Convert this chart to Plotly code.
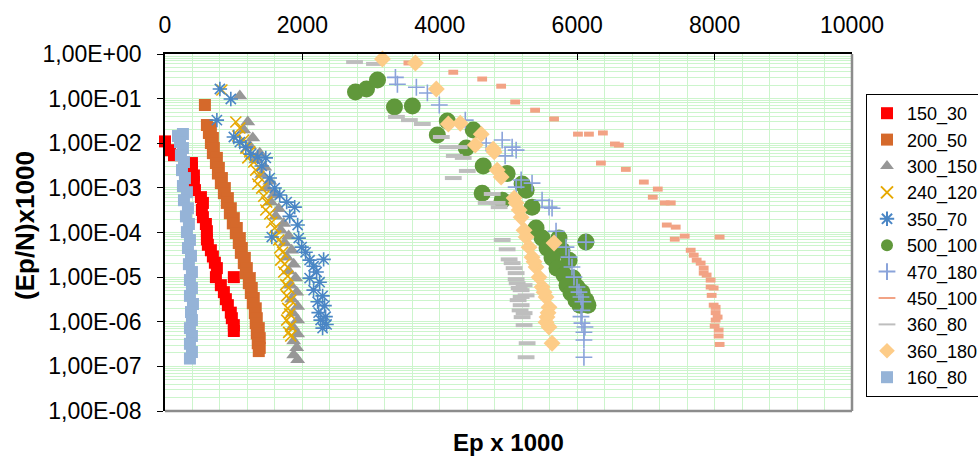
import plotly.graph_objects as go

# ---------------- data ----------------
s150_30_x = [0, 73, 131, 392, 392, 421, 421, 436, 523, 552, 537, 552, 595, 610, 610, 624, 668, 697, 726, 755,
             1002, 741, 813, 857, 886, 915, 958, 973, 1002, 1002]
s150_30_y = [0.011, 0.0070, 0.0054, 0.0036, 0.0028, 0.0019, 0.00135, 0.00089, 0.00062, 0.00046, 0.00032, 0.00022,
             0.000155, 0.000107, 0.00007, 0.000053, 0.00004, 0.000029, 0.000021, 0.0000159, 0.00001, 0.00001,
             6.6e-6, 4.6e-6, 3.2e-6, 2.35e-6, 1.6e-6, 1.2e-6, 8.4e-7, 6.2e-7]

s200_50_x = [581, 610, 668, 639, 697, 668, 711, 697, 755, 741, 784, 770, 828, 813, 871, 857, 915, 900, 958, 944,
             1002, 987, 1045, 1031, 1089, 1074, 1118, 1104, 1162, 1147, 1191, 1176, 1234, 1220, 1263, 1249, 1292,
             1278, 1321, 1307, 1336, 1321, 1365, 1336, 1379, 1350, 1379, 1365]
s200_50_y = [0.072, 0.0256, 0.022, 0.017, 0.0131, 0.0101, 0.0078, 0.006, 0.0047, 0.0036, 0.0028, 0.0021, 0.00166,
             0.00128, 0.00099, 0.00076, 0.00059, 0.00046, 0.00035, 0.00027, 0.00021, 0.00016, 0.000126, 0.000097,
             0.000075, 0.000058, 0.000045, 0.000035, 0.000027, 0.0000206, 0.0000159, 0.0000123, 9.5e-6, 7.3e-6,
             5.7e-6, 4.4e-6, 3.4e-6, 2.6e-6, 2.0e-6, 1.56e-6, 1.2e-6, 9.3e-7, 7.2e-7, 5.5e-7, 4.3e-7, 3.3e-7,
             2.6e-7, 2.2e-7]

s300_150_x = [1089, 1205, 1147, 1278, 1234, 1379, 1321, 1452, 1408, 1525, 1481, 1583, 1539, 1655, 1612, 1728, 1684,
              1800, 1742, 1844, 1771, 1873, 1800, 1902, 1830, 1917, 1844, 1931, 1859, 1931, 1859, 1931, 1873, 1917,
              1873, 1931]
s300_150_y = [0.114, 0.030, 0.0198, 0.0131, 0.0087, 0.0060, 0.0042, 0.0029, 0.0020, 0.0014, 0.00099, 0.00069,
              0.00048, 0.00034, 0.00023, 0.00016, 0.000113, 0.000083, 0.000058, 0.000040, 0.000028, 0.0000195,
              0.0000137, 9.5e-6, 6.6e-6, 4.6e-6, 3.2e-6, 2.2e-6, 1.56e-6, 1.09e-6, 7.6e-7, 5.3e-7, 3.7e-7, 2.6e-7,
              1.8e-7, 1.4e-7]

s240_120_x = [828, 1031, 1089, 1060, 1147, 1176, 1234, 1205, 1292, 1321, 1365, 1350, 1408, 1437, 1481, 1467, 1525,
              1554, 1597, 1612, 1655, 1670, 1713, 1684, 1742, 1728, 1786, 1757, 1800, 1771, 1830, 1786, 1815, 1771,
              1830, 1800, 1830]
s240_120_y = [0.156, 0.030, 0.022, 0.0145, 0.0118, 0.0078, 0.0064, 0.0047, 0.0038, 0.0025, 0.0018, 0.00122,
              0.00099, 0.00065, 0.00048, 0.00032, 0.00026, 0.00017, 0.000126, 0.000083, 0.000068, 0.000045,
              0.000036, 0.000024, 0.0000195, 0.000013, 0.0000105, 6.8e-6, 5.7e-6, 3.8e-6, 3.05e-6, 2.0e-6, 1.5e-6,
              1.09e-6, 8.0e-7, 5.8e-7, 4.8e-7]

s350_70_x = [799, 958, 755, 1002, 1089, 1176, 1249, 1350, 1467, 1408, 1525, 1597, 1670, 1771, 1888, 1815, 1931,
             1554, 1946, 1989, 2047, 2105, 2309, 2163, 2207, 2105, 2251, 2163, 2294, 2222, 2323, 2236, 2338, 2265,
             2352, 2294]
s350_70_y = [0.164, 0.098, 0.033, 0.0138, 0.0106, 0.0082, 0.0057, 0.0049, 0.0047, 0.0031, 0.00166, 0.00099,
             0.00069, 0.00048, 0.00037, 0.00023, 0.000147, 0.000079, 0.000075, 0.000047, 0.000036, 0.000024,
             0.000025, 0.0000175, 0.000013, 9.5e-6, 7.7e-6, 5.1e-6, 3.8e-6, 2.8e-6, 2.3e-6, 1.6e-6, 1.3e-6,
             1.09e-6, 8.7e-7, 7.2e-7]

s500_100_x = [2773, 2933, 3093, 3340, 3601, 4109, 3964, 4487, 4385, 4632, 4980, 5198, 4617, 4908, 5256, 5343, 5401,
              5489, 5735, 6127, 5561, 5779, 5634, 5881, 5706, 5808, 5939, 5852, 5997, 5910, 6069, 5982, 6127, 6040,
              6156]
s500_100_y = [0.14, 0.164, 0.26, 0.065, 0.068, 0.0315, 0.0153, 0.0198, 0.0078, 0.0031, 0.0021, 0.00122, 0.00076,
              0.00053, 0.00089, 0.00037, 0.000126, 0.000075, 0.000075, 0.000061, 0.000045, 0.000040, 0.000027,
              0.000024, 0.0000159, 0.0000111, 9.5e-6, 6.6e-6, 6.0e-6, 4.4e-6, 4.6e-6, 3.05e-6, 3.05e-6, 2.35e-6,
              2.35e-6]

s470_180_x = [3354, 3383, 3659, 3819, 3993, 4371, 4675, 4908, 5053, 5111, 4951, 5184, 5343, 5111, 5489, 5590, 5634,
              5692, 5837, 5881, 5924, 5953, 5997, 6055, 6069, 6069, 6098, 6098, 6098, 6127, 6026, 6084, 6055, 6113]
s470_180_y = [0.30, 0.21, 0.18, 0.134, 0.072, 0.033, 0.0101, 0.0118, 0.0082, 0.0070, 0.0052, 0.0015, 0.00128,
              0.00104, 0.00053, 0.00037, 0.00035, 0.000107, 0.000047, 0.000028, 0.0000168, 0.00001, 6.0e-6, 3.6e-6,
              1.8e-6, 9.3e-7, 5.8e-7, 3.9e-7, 1.6e-7, 0.000061, 4.6e-6, 2.8e-6, 1.3e-6, 7.6e-7]

s450_100_x = [3543, 4196, 4617, 4893, 5097, 5387, 5663, 6011, 6171, 6374, 6549, 6607, 6345, 6708, 6970, 7173, 7100,
              7275, 7362, 7304, 7434, 7420, 7565, 8073, 7652, 7696, 7739, 7797, 7841, 7841, 7884, 7942, 7942, 7986,
              7957, 7986, 8015, 8015, 8044, 8015, 8001, 8059, 8059, 8073]
s450_100_y = [0.63, 0.39, 0.275, 0.19, 0.084, 0.055, 0.035, 0.016, 0.016, 0.017, 0.0096, 0.0091, 0.0036, 0.0026,
              0.00135, 0.00094, 0.00062, 0.00046, 0.00046, 0.000147, 0.000132, 0.000071, 0.000083, 0.000079,
              0.000040, 0.000031, 0.000024, 0.0000206, 0.0000159, 0.0000123, 0.0000111, 8.6e-6, 6.0e-6, 5.7e-6,
              3.9e-6, 2.35e-6, 2.1e-6, 1.6e-6, 1.27e-6, 1.09e-6, 8.0e-7, 6.5e-7, 4.8e-7, 3.1e-7]

s360_80_x = [2759, 3049, 3369, 3557, 3746, 4022, 4109, 4283, 4211, 4341, 4400, 4196, 4763, 4675, 4835, 4864, 4908,
             4980, 5009, 5053, 5111, 5126, 5184, 5184, 5184, 5227, 5198, 5227, 5271, 5256, 5111, 5155, 5140, 5169,
             5227, 5256, 5082]
s360_80_y = [0.66, 0.60, 0.039, 0.033, 0.027, 0.0138, 0.0082, 0.0082, 0.0052, 0.0047, 0.0024, 0.00166, 0.00073,
             0.00046, 0.00046, 0.00037, 0.000068, 0.000042, 0.000025, 0.0000206, 0.0000123, 7.3e-6, 5.1e-6, 3.6e-6,
             2.35e-6, 1.56e-6, 1.27e-6, 8.4e-7, 3.3e-7, 1.6e-7, 9.0e-6, 5.7e-6, 3.05e-6, 1.8e-6, 6.6e-6, 3.9e-6,
             0.0000159]

s360_180_x = [3165, 3645, 3949, 4124, 4298, 4603, 4516, 4777, 4792, 4835, 4893, 5082, 5111, 5155, 5184, 5227, 5256,
              5300, 5663, 5343, 5401, 5445, 5489, 5547, 5590, 5561, 5590, 5547, 5634, 5372, 5518, 5576]
s360_180_y = [0.77, 0.63, 0.164, 0.027, 0.028, 0.016, 0.0091, 0.0074, 0.0064, 0.0025, 0.00175, 0.00059, 0.00046,
              0.00032, 0.00022, 0.000113, 0.000079, 0.000047, 0.000058, 0.000028, 0.0000168, 0.00001, 6.0e-6, 3.6e-6,
              2.1e-6, 1.27e-6, 7.6e-7, 9.8e-7, 3.3e-7, 0.000022, 4.6e-6, 1.6e-6]

s160_80_x = [189, 261, 218, 261, 232, 276, 247, 290, 261, 319, 276, 334, 305, 348, 319, 363, 334, 378, 348, 392, 363,
             392, 363, 407, 378, 392, 363, 392, 363, 392, 363]
s160_80_y = [0.0145, 0.0161, 0.0106, 0.0078, 0.0054, 0.0038, 0.0025, 0.00166, 0.0011, 0.0008, 0.00053, 0.00035,
             0.00023, 0.000155, 0.000102, 0.000068, 0.000045, 0.000030, 0.0000195, 0.000013, 8.6e-6, 5.7e-6, 3.8e-6,
             2.5e-6, 1.65e-6, 1.09e-6, 7.2e-7, 4.8e-7, 3.2e-7, 2.1e-7, 1.5e-7]

x_tick_vals = [0, 2000, 4000, 6000, 8000, 10000]
x_tick_text = ["0", "2000", "4000", "6000", "8000", "10000"]
y_tick_vals = [1, 1e-1, 1e-2, 1e-3, 1e-4, 1e-5, 1e-6, 1e-7, 1e-8]
y_tick_text = ["1,00E+00", "1,00E-01", "1,00E-02", "1,00E-03", "1,00E-04",
               "1,00E-05", "1,00E-06", "1,00E-07", "1,00E-08"]

# ---------------- styles ----------------
FONT = "Liberation Sans, Arial, sans-serif"
GRID = "#CCF5CC"

series = [
    ("150_30", s150_30_x, s150_30_y, dict(symbol="square", size=12, color="#FF0000")),
    ("200_50", s200_50_x, s200_50_y, dict(symbol="square", size=12, color="#D5692B")),
    ("300_150", s300_150_x, s300_150_y, dict(symbol="triangle-up", size=13, color="#979797")),
    ("240_120", s240_120_x, s240_120_y, dict(symbol="x-thin-open", size=11, color="#E6A800",
                                             line=dict(color="#E6A800", width=1.6))),
    ("350_70", s350_70_x, s350_70_y, dict(symbol="asterisk-open", size=12, color="#4A86C5",
                                          line=dict(color="#4A86C5", width=1.6))),
    ("500_100", s500_100_x, s500_100_y, dict(symbol="circle", size=17, color="#60983B")),
    ("470_180", s470_180_x, s470_180_y, dict(symbol="cross-thin-open", size=12, color="#8AA3DA",
                                             line=dict(color="#8AA3DA", width=1.6))),
    ("450_100", s450_100_x, s450_100_y, dict(symbol="line-ew-open", size=7, color="#F2A385",
                                             line=dict(color="#F2A385", width=5))),
    ("360_80", s360_80_x, s360_80_y, dict(symbol="line-ew-open", size=12, color="#BEBEBE",
                                          line=dict(color="#BEBEBE", width=4))),
    ("360_180", s360_180_x, s360_180_y, dict(symbol="diamond", size=13, color="#FDCC88")),
    ("160_80", s160_80_x, s160_80_y, dict(symbol="square", size=12, color="#95B3D7")),
]

fig = go.Figure()
for name, xs, ys, mk in series:
    fig.add_trace(go.Scatter(x=xs, y=ys, mode="markers", name=name, marker=mk, cliponaxis=False))

fig.update_layout(
    width=978, height=457,
    margin=dict(l=165, r=126, t=54, b=46, autoexpand=False),
    paper_bgcolor="white", plot_bgcolor="white",
    font=dict(family=FONT, color="black"),
    showlegend=True,
    legend=dict(x=(866 - 165) / 687, y=1 - (94 - 54) / 357,
                xanchor="left", yanchor="top", itemsizing="constant",
                bgcolor="white", bordercolor="black", borderwidth=1,
                font=dict(family=FONT, size=18, color="black"),
                tracegroupgap=0),
    xaxis=dict(
        side="top", range=[0, 10000], tickvals=x_tick_vals, ticktext=x_tick_text,
        ticks="inside", ticklen=6, tickcolor="black", ticklabelstandoff=10,
        tickfont=dict(family=FONT, size=23),
        showline=True, linecolor="black", linewidth=1.5, automargin=False,
        showgrid=True, gridcolor=GRID, gridwidth=1, zeroline=False,
        minor=dict(dtick=400, showgrid=True, gridcolor=GRID, gridwidth=1, ticks=""),
        title=None,
    ),
    yaxis=dict(
        type="log", range=[-8, 0], tickvals=y_tick_vals, ticktext=y_tick_text,
        ticks="outside", ticklen=6, tickcolor="black", ticklabelstandoff=11,
        tickfont=dict(family=FONT, size=23),
        showline=True, linecolor="black", linewidth=1.5, automargin=False,
        showgrid=True, gridcolor=GRID, gridwidth=1, zeroline=False,
        minor=dict(dtick="D1", showgrid=True, gridcolor=GRID, gridwidth=1, ticks=""),
        title=None,
    ),
    shapes=[
        dict(type="line", xref="paper", yref="paper", x0=0, x1=1, y0=0, y1=0,
             line=dict(color="#8C8C8C", width=2.5)),
        dict(type="line", xref="paper", yref="paper", x0=1, x1=1, y0=0, y1=1,
             line=dict(color="#8C8C8C", width=2.5)),
    ],
    annotations=[
        dict(text="<b>Ep x 1000</b>", xref="paper", yref="paper", x=0.5, y=(411 - 443) / 357,
             xanchor="center", yanchor="middle", showarrow=False,
             font=dict(family=FONT, size=24, color="black")),
        dict(text="<b>(Ep/N)x1000</b>", xref="paper", yref="paper", x=(25 - 165) / 687, y=(411 - 226) / 357,
             xanchor="center", yanchor="middle", showarrow=False, textangle=-90,
             font=dict(family=FONT, size=26, color="black")),
    ],
)

fig.write_html("out.html", config={"displayModeBar": False},
               post_script="document.body.style.margin='0';document.body.style.overflow='hidden';")
